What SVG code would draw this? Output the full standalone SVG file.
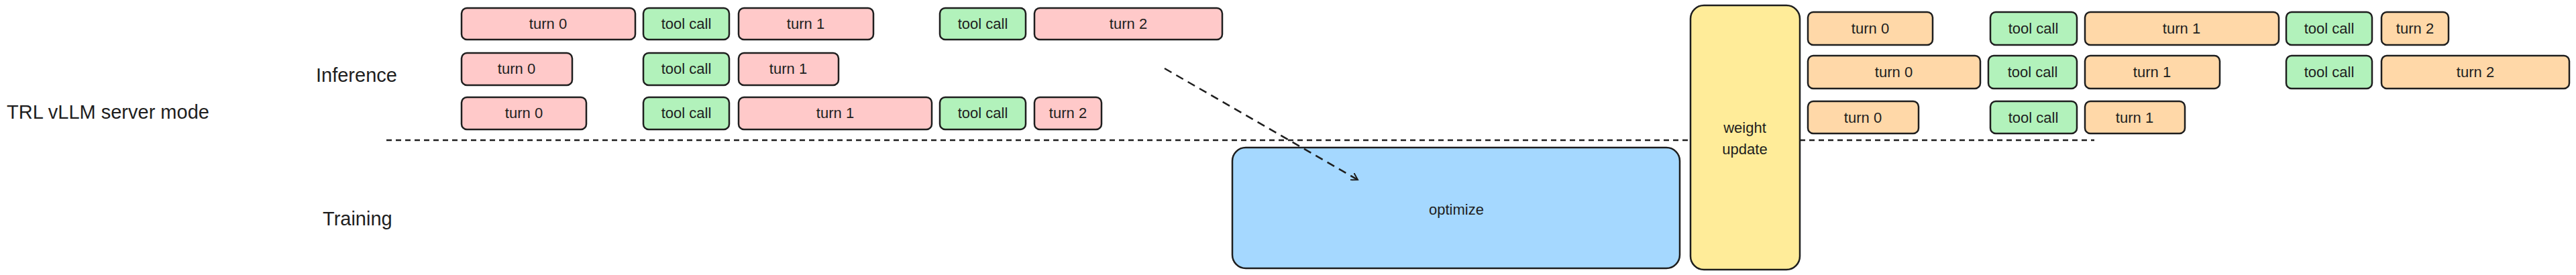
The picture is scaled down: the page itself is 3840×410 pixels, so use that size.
<svg xmlns="http://www.w3.org/2000/svg" width="3840" height="410" viewBox="0 0 3840 410">
<style>
rect{stroke:#1e1e1e;stroke-width:2.5}
.p{fill:#ffc9c9}.g{fill:#b2f2bb}.o{fill:#ffd8a8}
text{font-family:"Liberation Sans",sans-serif;font-size:22px;fill:#1e1e1e;text-anchor:middle;dominant-baseline:central}
.lbl{font-size:29px;text-anchor:start}
</style>
<defs><marker id="ah" markerWidth="12" markerHeight="12" refX="10" refY="6" orient="auto" markerUnits="userSpaceOnUse"><path d="M0,0 L10,6 L0,12" fill="none" stroke="#1e1e1e" stroke-width="2"/></marker></defs>
<g id="labels">
<text class="lbl" x="10" y="167">TRL vLLM server mode</text>
<text class="lbl" x="471" y="112">Inference</text>
<text class="lbl" x="481" y="326">Training</text>
</g>
<g id="optimize"><rect x="1837" y="220" width="667" height="180" rx="20" fill="#a5d8ff"/><text x="2171" y="312">optimize</text></g>
<g id="weight-update"><rect x="2520" y="8" width="163" height="394" rx="20" fill="#ffec99"/><text x="2601" y="190">weight</text><text x="2601" y="222">update</text></g>
<g id="r1"><rect class="p" x="688" y="12" width="259" height="47" rx="8"/><text x="817" y="35">turn 0</text>
<rect class="g" x="959" y="12" width="128" height="47" rx="8"/><text x="1023" y="35">tool call</text>
<rect class="p" x="1101" y="12" width="201" height="47" rx="8"/><text x="1201" y="35">turn 1</text>
<rect class="g" x="1401" y="12" width="128" height="47" rx="8"/><text x="1465" y="35">tool call</text>
<rect class="p" x="1542" y="12" width="280" height="47" rx="8"/><text x="1682" y="35">turn 2</text></g>
<g id="r2"><rect class="p" x="688" y="79" width="165" height="48" rx="8"/><text x="770" y="102">turn 0</text>
<rect class="g" x="959" y="79" width="128" height="48" rx="8"/><text x="1023" y="102">tool call</text>
<rect class="p" x="1101" y="79" width="149" height="48" rx="8"/><text x="1175" y="102">turn 1</text></g>
<g id="r3"><rect class="p" x="688" y="145" width="186" height="48" rx="8"/><text x="781" y="168">turn 0</text>
<rect class="g" x="959" y="145" width="128" height="48" rx="8"/><text x="1023" y="168">tool call</text>
<rect class="p" x="1101" y="145" width="288" height="48" rx="8"/><text x="1245" y="168">turn 1</text>
<rect class="g" x="1401" y="145" width="128" height="48" rx="8"/><text x="1465" y="168">tool call</text>
<rect class="p" x="1542" y="145" width="100" height="48" rx="8"/><text x="1592" y="168">turn 2</text></g>
<g id="r4"><rect class="o" x="2695" y="18" width="186" height="49" rx="8"/><text x="2788" y="42">turn 0</text>
<rect class="g" x="2967" y="18" width="129" height="49" rx="8"/><text x="3031" y="42">tool call</text>
<rect class="o" x="3108" y="18" width="289" height="49" rx="8"/><text x="3252" y="42">turn 1</text>
<rect class="g" x="3408" y="18" width="128" height="49" rx="8"/><text x="3472" y="42">tool call</text>
<rect class="o" x="3550" y="18" width="100" height="49" rx="8"/><text x="3600" y="42">turn 2</text></g>
<g id="r5"><rect class="o" x="2695" y="83" width="257" height="49" rx="8"/><text x="2823" y="107">turn 0</text>
<rect class="g" x="2964" y="83" width="132" height="49" rx="8"/><text x="3030" y="107">tool call</text>
<rect class="o" x="3108" y="83" width="201" height="49" rx="8"/><text x="3208" y="107">turn 1</text>
<rect class="g" x="3408" y="83" width="128" height="49" rx="8"/><text x="3472" y="107">tool call</text>
<rect class="o" x="3550" y="83" width="280" height="49" rx="8"/><text x="3690" y="107">turn 2</text></g>
<g id="r6"><rect class="o" x="2695" y="151" width="165" height="48" rx="8"/><text x="2777" y="175">turn 0</text>
<rect class="g" x="2967" y="151" width="129" height="48" rx="8"/><text x="3031" y="175">tool call</text>
<rect class="o" x="3108" y="151" width="149" height="48" rx="8"/><text x="3182" y="175">turn 1</text></g>
<g id="connectors" fill="none" stroke="#1e1e1e" stroke-width="2.5">
<path d="M576 209 H2520 M2683 209 H3122" stroke-dasharray="8 6"/>
<path d="M1736 102 L2024 268" stroke-dasharray="12 8" marker-end="url(#ah)"/>
</g>
</svg>
